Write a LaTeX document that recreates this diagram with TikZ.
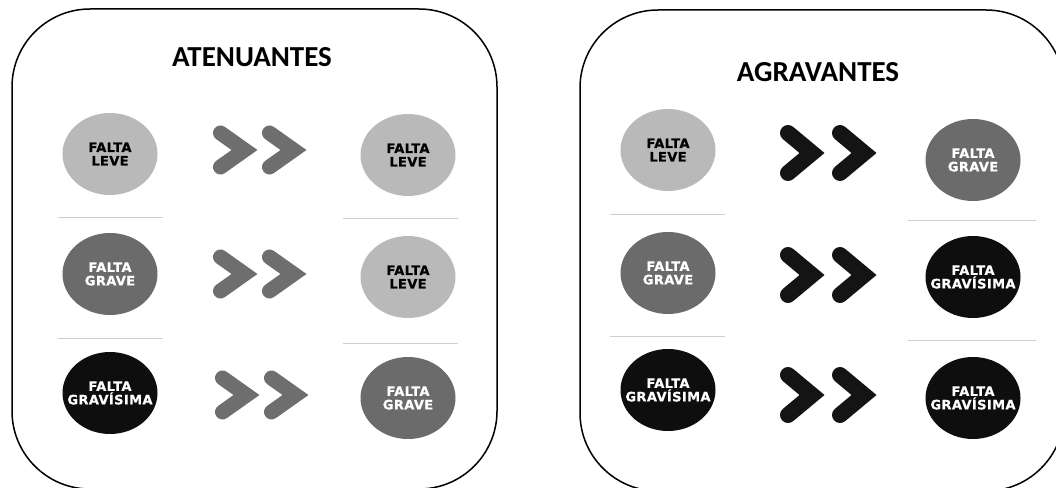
\documentclass[tikz,border=0pt]{standalone}
\usepackage{fontspec}
\setmainfont{Carlito}
\newfontfamily\circfont[LetterSpace=3,BoldFeatures={FakeBold=0.6}]{DejaVu Sans}
\usetikzlibrary{shapes.geometric}
\definecolor{lightc}{HTML}{B9B9B9}
\definecolor{midc}{HTML}{6B6B6B}
\definecolor{darkc}{HTML}{0E0E0E}
\definecolor{sepc}{HTML}{CFCFCF}
\definecolor{chevgray}{HTML}{6E6E6E}
\definecolor{chevblack}{HTML}{141414}
\newcommand\chevsmall[2]{\draw[chevs] (#1,#2-17) -- (#1+24,#2) -- (#1,#2+17);}
\newcommand\chevbig[2]{\draw[chevb] (#1,#2-20) -- (#1+24,#2) -- (#1,#2+20);}
\newcommand\dtext[2]{\makebox[0pt]{#1}\\\makebox[0pt]{#2}}
\begin{document}
\begin{tikzpicture}[x=1pt,y=-1pt,
  panel/.style={draw=black, line width=1.5pt, rounded corners=78pt},
  title/.style={font=\bfseries\fontsize{29}{34}\selectfont},
  disc/.style={ellipse, minimum width=95pt, minimum height=82pt, inner sep=0pt, align=center, font=\circfont\bfseries\fontsize{13}{13.5}\selectfont},
  leve/.style={disc, fill=lightc, text=black},
  grave/.style={disc, fill=midc, text=white},
  gravisima/.style={disc, fill=darkc, text=white},
  sep/.style={draw=sepc, line width=1pt},
  chevs/.style={draw=chevgray, line width=15pt, line cap=round, line join=miter},
  chevb/.style={draw=chevblack, line width=16pt, line cap=round, line join=miter}
]
\useasboundingbox (0,0) rectangle (1056,487);
% panels
\draw[panel] (12,9) rectangle (497,489);
\draw[panel] (580,10) rectangle (1064,491);
\node[title] (t1) at (252,57) {ATENUANTES};
\node[title] (t2) at (818,72) {AGRAVANTES};
% left panel discs
\node[leve] (a1) at (110,154) {\dtext{FALTA}{LEVE}};
\node[grave] (a2) at (110,274) {\dtext{FALTA}{GRAVE}};
\node[gravisima] (a3) at (110,393) {\dtext{FALTA}{GRAVÍSIMA}};
\node[leve] (b1) at (408,155) {\dtext{FALTA}{LEVE}};
\node[leve] (b2) at (408,277) {\dtext{FALTA}{LEVE}};
\node[grave] (b3) at (408,398) {\dtext{FALTA}{GRAVE}};
% right panel discs
\node[leve] (c1) at (668,150) {\dtext{FALTA}{LEVE}};
\node[grave] (c2) at (668,273) {\dtext{FALTA}{GRAVE}};
\node[gravisima] (c3) at (668,390) {\dtext{FALTA}{GRAVÍSIMA}};
\node[grave] (d1) at (973,160) {\dtext{FALTA}{GRAVE}};
\node[gravisima] (d2) at (973,277) {\dtext{FALTA}{GRAVÍSIMA}};
\node[gravisima] (d3) at (973,398) {\dtext{FALTA}{GRAVÍSIMA}};
% separators
\draw[sep] (58,217) -- (163,217);
\draw[sep] (58,338) -- (163,338);
\draw[sep] (343,218) -- (458,218);
\draw[sep] (343,343) -- (458,343);
\draw[sep] (610,214) -- (725,214);
\draw[sep] (610,336) -- (725,336);
\draw[sep] (908,220) -- (1036,220);
\draw[sep] (908,340) -- (1036,340);
% chevrons left
\chevsmall{220.5}{150}\chevsmall{269.5}{150}
\chevsmall{220.5}{274}\chevsmall{269.5}{274}
\chevsmall{222.5}{395}\chevsmall{271.5}{395}
% chevrons right
\chevbig{788}{153}\chevbig{840}{153}
\chevbig{788}{275}\chevbig{840}{275}
\chevbig{788}{395}\chevbig{840}{395}
\end{tikzpicture}
\end{document}
